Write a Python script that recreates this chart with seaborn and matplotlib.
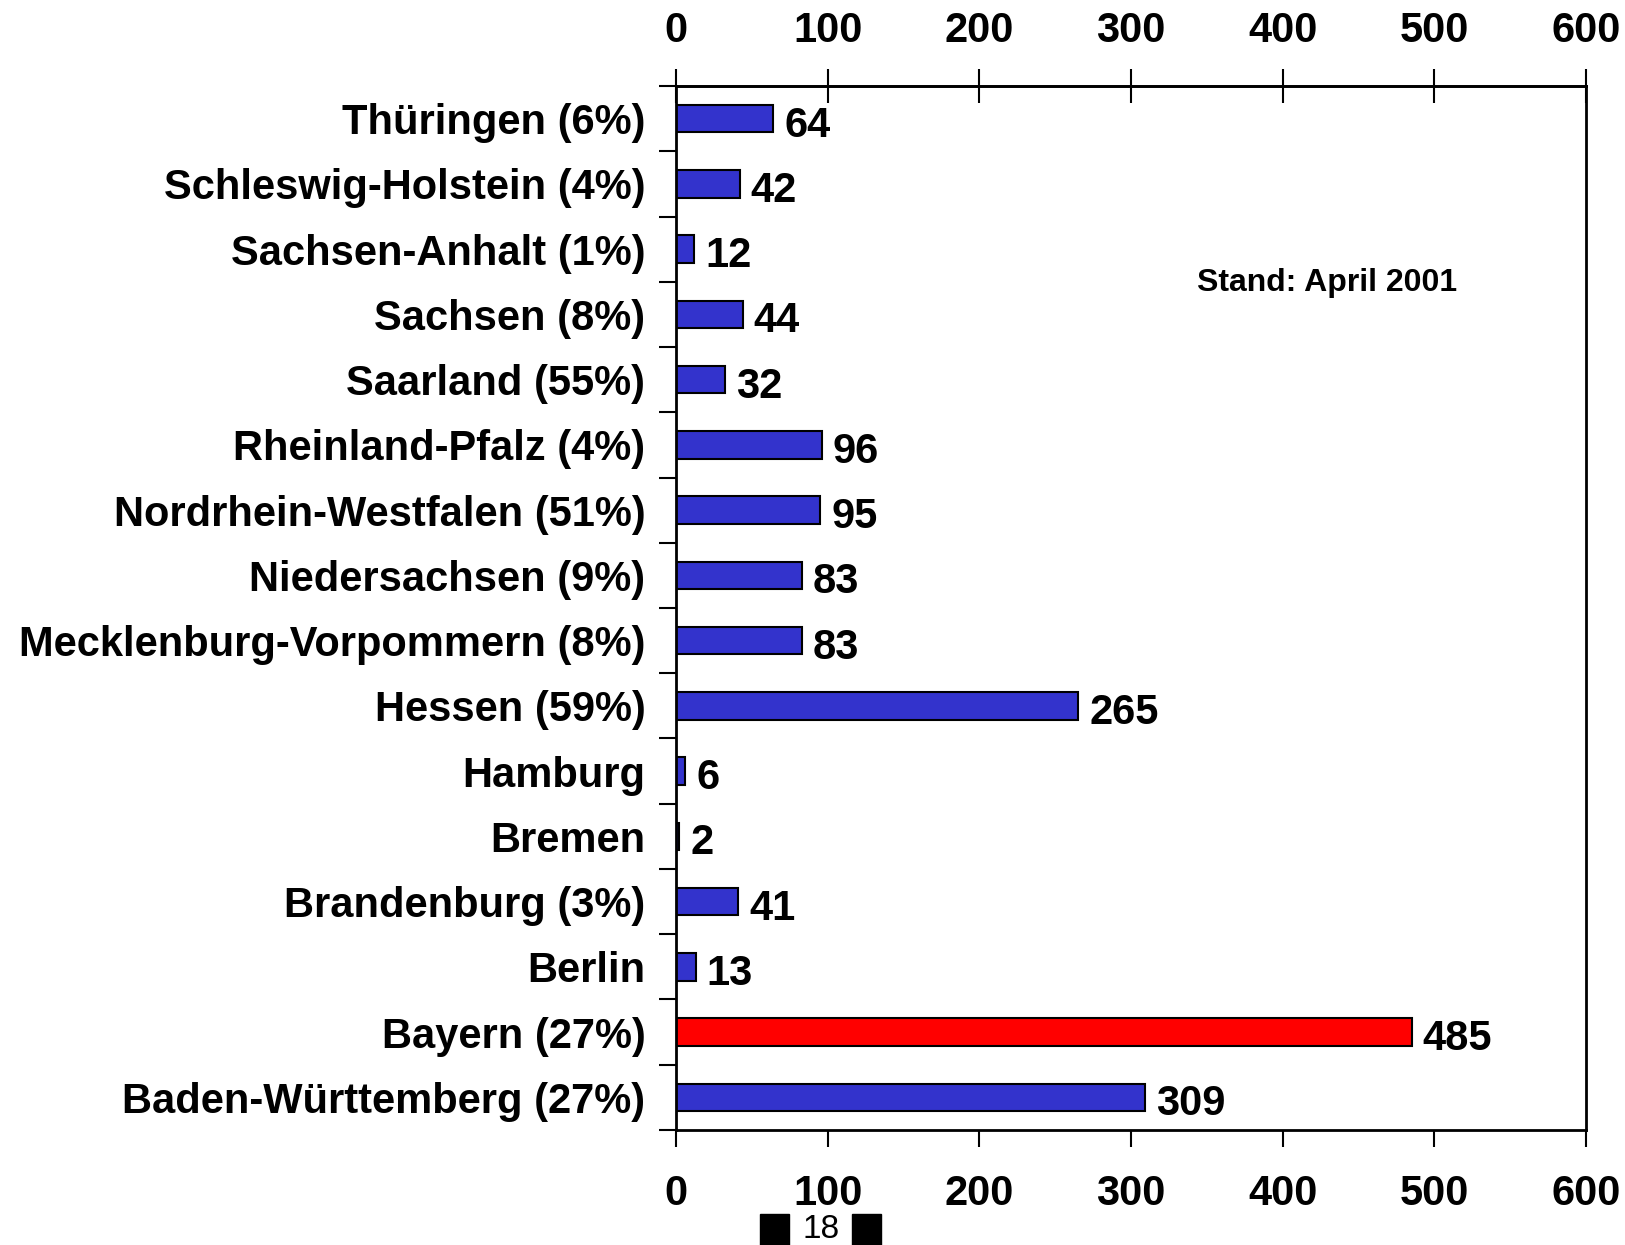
import numpy as np
import pandas as pd
import seaborn as sns
import matplotlib.pyplot as plt
from matplotlib.patches import Rectangle

# Länder top to bottom, values as shown next to the bars
laender = [
    "Thüringen (6%)", "Schleswig-Holstein (4%)", "Sachsen-Anhalt (1%)",
    "Sachsen (8%)", "Saarland (55%)", "Rheinland-Pfalz (4%)",
    "Nordrhein-Westfalen (51%)", "Niedersachsen (9%)",
    "Mecklenburg-Vorpommern (8%)", "Hessen (59%)", "Hamburg", "Bremen",
    "Brandenburg (3%)", "Berlin", "Bayern (27%)", "Baden-Württemberg (27%)",
]
werte = [64, 42, 12, 44, 32, 96, 95, 83, 83, 265, 6, 2, 41, 13, 485, 309]
gruppe = ["Bayern" if l.startswith("Bayern") else "andere" for l in laender]
farben = {"andere": "#3333CC", "Bayern": "#FF0000"}
x_ticks = [0, 100, 200, 300, 400, 500, 600]

df = pd.DataFrame({"land": laender, "wert": werte, "gruppe": gruppe})

sns.set_theme(style="white")
plt.rcParams['font.family'] = ['Liberation Sans', 'DejaVu Sans']
plt.rcParams['font.weight'] = 'bold'
plt.rcParams['text.color'] = 'black'
plt.rcParams['xtick.color'] = 'black'
plt.rcParams['ytick.color'] = 'black'

fs = 30

fig = plt.figure(figsize=(16.25, 12.45), dpi=100)
ax = fig.add_axes([0.416, 0.0924, 0.56, 0.8385])

sns.barplot(data=df, y="land", x="wert", hue="gruppe", palette=farben,
            order=laender, dodge=False, width=0.42, orient="h",
            saturation=1, edgecolor="black", linewidth=1.5, legend=False,
            ax=ax)

for c in ax.containers:
    for t in ax.bar_label(c, padding=8, fontsize=fs, fontweight="bold"):
        t.set_position((8, -5))

ax.set_xlim(0, 600)
ax.set_ylim(len(laender) - 0.5, -0.5)
ax.set_xlabel("")
ax.set_ylabel("")

# y: ticks on category boundaries, labels centred on bars
ax.set_yticks(np.arange(len(laender) + 1) - 0.5)
ax.set_yticklabels([])
ax.set_yticks(np.arange(len(laender)), minor=True)
ax.set_yticklabels(laender, minor=True, fontsize=fs, fontweight="bold")
ax.tick_params(axis="y", which="major", direction="out", length=12,
               width=1.5, left=True)
ax.tick_params(axis="y", which="minor", length=0, pad=22, left=True)

ax.set_xticks(x_ticks)
ax.set_xticklabels([str(t) for t in x_ticks], fontsize=fs, fontweight="bold")
ax.tick_params(axis="x", direction="out", length=12, width=1.5,
               bottom=True, pad=20)

top = ax.secondary_xaxis("top")
top.set_xticks(x_ticks)
top.set_xticklabels([str(t) for t in x_ticks], fontsize=fs, fontweight="bold")
top.tick_params(axis="x", direction="inout", length=24, width=1.5, pad=13)
top.spines["top"].set_linewidth(2)

for s in ax.spines.values():
    s.set_color("black")
    s.set_linewidth(2)

ax.text(0.715, 0.811, "Stand: April 2001", transform=ax.transAxes,
        ha="center", va="center", fontsize=23, fontweight="bold")

# page footer
fig.patches.append(Rectangle((760 / 1625, 0), 29 / 1625, 31 / 1245,
                             transform=fig.transFigure, color="black"))
fig.patches.append(Rectangle((852 / 1625, 0), 29 / 1625, 31 / 1245,
                             transform=fig.transFigure, color="black"))
fig.text(821 / 1625, 15 / 1245, "18", ha="center", va="center",
         fontsize=24, fontweight="normal")

fig.savefig("out.png", dpi=100)
